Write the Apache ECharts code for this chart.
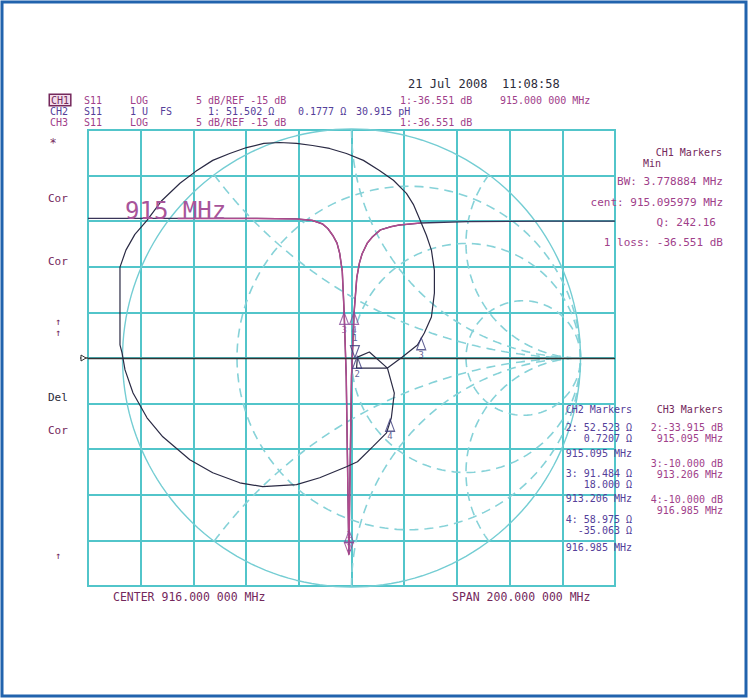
<!DOCTYPE html>
<html><head><meta charset="utf-8">
<script src="https://cdn.jsdelivr.net/npm/echarts/dist/echarts.min.js"></script>
<style>html,body{margin:0;padding:0;background:#fff}#c{width:749px;height:698px}</style>
</head><body><div id="c"></div>
<script>
// ---- instrument settings ----
const centerMHz = 916, spanMHz = 200;
const refLevelDb = -15, dbPerDiv = 5;

// ---- CH1 / CH3 : S11 log magnitude (frequency MHz, dB) ----
const ch1Freq = [816, 850, 880, 895, 901, 905, 907, 909, 910.5, 911.5, 912.5, 913.206, 914, 915, 916, 916.985, 918, 919, 920, 922, 924, 927, 931, 934, 942, 960, 990, 1016];
const ch1Db   = [0.3, 0.3, 0.3, 0.25, 0.1, -0.3, -0.8, -1.6, -2.4, -3.5, -5.5, -10, -17, -36.551, -17, -10, -6.2, -4.6, -3.6, -2.4, -1.7, -0.95, -0.6, -0.42, -0.2, -0.05, 0, 0];
const ch1VisibleFrom = 826, ch1VisibleTo = 945;

// ---- CH2 : S11 Smith chart trace (reflection coefficient, real / imag) ----
const smithRe = [-1.011,-1.011,-1.011,-0.985,-0.946,-0.893,-0.828,-0.749,-0.680,-0.606,-0.532,-0.458,-0.383,-0.314,-0.240,-0.170,-0.096,-0.022,0.052,0.122,0.183,0.240,0.270,0.296,0.327,0.349,0.362,0.362,0.349,0.318,0.288,0.222,0.157,0.022,0.026,0.078,0.157,0.187,0.174,0.153,0.092,0.026,-0.022,-0.139,-0.240,-0.388,-0.488,-0.606,-0.706,-0.824,-0.893,-0.954,-0.989,-1.002,-1.011];
const smithIm = [0.057,0.253,0.397,0.471,0.540,0.601,0.688,0.763,0.815,0.863,0.893,0.919,0.937,0.941,0.937,0.928,0.915,0.893,0.863,0.819,0.776,0.719,0.671,0.610,0.536,0.471,0.383,0.283,0.179,0.109,0.057,0.004,-0.044,-0.044,0.004,0.026,-0.044,-0.153,-0.261,-0.327,-0.388,-0.453,-0.475,-0.523,-0.553,-0.562,-0.545,-0.501,-0.444,-0.344,-0.261,-0.153,-0.052,0.022,0.057];

// ---- markers ----
const z0 = 50;
const smithMarkerIds = ['1', '2', '3', '4'];
const smithMarkerR   = [51.502, 52.523, 91.484, 58.975];
const smithMarkerX   = [0.1777, 0.7207, 18.000, -35.063];
const logMarkerIds   = ['1', '2', '3', '4'];
const logMarkerFreq  = [915.000, 915.095, 913.206, 916.985];
const logMarkerDb    = [-36.551, -33.915, -10.000, -10.000];

// ---- Smith graticule ----
const resistanceCircles = [1/3, 1, 3];
const reactanceArcs = [0.5, 1, 2, -0.5, -1, -2];
const smithExtent = 1.1;
const smithPxPerUnit = 229;

function gammaOf(r, x) {
  const d = (r + 1) * (r + 1) + x * x;
  return [(r * r + x * x - 1) / d, 2 * x / d];
}

const FONT = '"DejaVu Sans Mono", monospace';
const GRID_CYAN = '#52c5ca';
const DASH_CYAN = '#86d2d8';

const series = [];
resistanceCircles.forEach(r => {
  const c = r / (1 + r), rad = 1 / (1 + r), pts = [];
  for (let a = 0; a <= 360; a += 2) {
    const t = a * Math.PI / 180;
    pts.push([c + rad * Math.cos(t), rad * Math.sin(t)]);
  }
  series.push({type: 'line', xAxisIndex: 1, yAxisIndex: 1, data: pts, showSymbol: false, silent: true, clip: false,
    lineStyle: {color: DASH_CYAN, width: 1.6, type: [9, 6]}, z: 1});
});
reactanceArcs.forEach(x => {
  const pts = [gammaOf(0, x)];
  for (let k = -3; k <= 3.0001; k += 0.02) pts.push(gammaOf(Math.pow(10, k), x));
  series.push({type: 'line', xAxisIndex: 1, yAxisIndex: 1, data: pts, showSymbol: false, silent: true, clip: false,
    lineStyle: {color: DASH_CYAN, width: 1.6, type: [9, 6]}, z: 1});
});
(function () {
  const pts = [];
  for (let a = 0; a <= 360; a += 2) { const t = a * Math.PI / 180; pts.push([Math.cos(t), Math.sin(t)]); }
  series.push({type: 'line', xAxisIndex: 1, yAxisIndex: 1, data: pts, showSymbol: false, silent: true, clip: false,
    lineStyle: {color: '#74cdd3', width: 1.4}, z: 1});
})();

series.push({
  type: 'line', xAxisIndex: 0, yAxisIndex: 0, showSymbol: false, clip: false,
  data: ch1Freq.map((f, i) => [f - centerMHz, ch1Db[i]]),
  lineStyle: {color: '#3a3458', width: 1.3}, z: 3,
  markLine: {silent: true, symbol: 'none', label: {show: false},
    lineStyle: {color: '#333', width: 1.4, type: 'solid'}, data: [{yAxis: refLevelDb}]}
});
series.push({
  type: 'line', xAxisIndex: 0, yAxisIndex: 0, showSymbol: false, clip: false,
  data: ch1Freq.map((f, i) => [f, ch1Db[i]]).filter(p => p[0] >= ch1VisibleFrom && p[0] <= ch1VisibleTo).map(p => [p[0] - centerMHz, p[1]]),
  lineStyle: {color: '#b04a8e', width: 1.5}, z: 4
});
series.push({
  type: 'line', xAxisIndex: 1, yAxisIndex: 1, showSymbol: false, clip: false,
  data: smithRe.map((v, i) => [v, smithIm[i]]),
  lineStyle: {color: '#2a2a44', width: 1.2}, z: 5
});

function markerItem(pt, id, down, color) {
  return {
    value: pt,
    symbol: 'triangle', symbolSize: [9, 12],
    symbolRotate: down ? 180 : 0,
    symbolOffset: [0, down ? '-50%' : '50%'],
    itemStyle: {color: 'rgba(255,255,255,0)', borderColor: color, borderWidth: 1.2},
    label: {show: true, formatter: id, position: down ? 'top' : 'bottom', distance: 13,
      color: color, fontFamily: FONT, fontSize: 9, offset: [0, down ? 11 : -13]}
  };
}
series.push({
  type: 'scatter', xAxisIndex: 0, yAxisIndex: 0, clip: false, z: 6, silent: true,
  data: logMarkerFreq.map((f, i) => markerItem([f - centerMHz, logMarkerDb[i]], logMarkerIds[i], i === 0, i === 0 ? '#a0408a' : '#8a4a9a'))
});
series.push({
  type: 'scatter', xAxisIndex: 1, yAxisIndex: 1, clip: false, z: 6, silent: true,
  data: smithMarkerR.map((r, i) => markerItem(gammaOf(r / z0, smithMarkerX[i] / z0), smithMarkerIds[i], i === 0, '#3a3a7a'))
});

// ---- texts ----
const texts = [];
function T(x, y, text, color, align, size, extra) {
  texts.push({type: 'text', x: x, y: y, silent: true, z: 100,
    style: Object.assign({text: text, fill: color, font: (size || 10) + 'px ' + FONT,
      textAlign: align || 'left', textVerticalAlign: 'middle', verticalAlign: 'middle'}, extra || {})});
}
const DARK = '#2b2b3a', MAROON = '#74285c', MAG = '#a0408a', BLUEP = '#55409a';
T(408, 84, '21 Jul 2008  11:08:58', DARK, 'left', 12);
T(50, 100, 'CH1', MAROON, 'left', 10, {backgroundColor: '#f3dcea', borderColor: '#74285c', borderWidth: 1.5, padding: [0, 1]});
T(84, 100, 'S11', MAG); T(130, 100, 'LOG', MAG); T(196, 100, '5 dB/REF -15 dB', MAG);
T(400, 100, '1:-36.551 dB', MAG); T(500, 100, '915.000 000 MHz', MAG);
T(50, 111, 'CH2', BLUEP); T(84, 111, 'S11', BLUEP); T(130, 111, '1 U  FS', BLUEP);
T(208, 111, '1: 51.502 \u03a9', BLUEP); T(298, 111, '0.1777 \u03a9', BLUEP); T(356, 111, '30.915 pH', BLUEP);
T(50, 122, 'CH3', MAG); T(84, 122, 'S11', MAG); T(130, 122, 'LOG', MAG); T(196, 122, '5 dB/REF -15 dB', MAG);
T(400, 122, '1:-36.551 dB', MAG);

T(722, 152, 'CH1 Markers', MAROON, 'right');
T(643, 163, 'Min', MAROON);
T(723, 181, 'BW: 3.778884 MHz', MAG, 'right', 11);
T(723, 202, 'cent: 915.095979 MHz', MAG, 'right', 11);
T(716, 222, 'Q: 242.16', MAG, 'right', 11);
T(723, 242, '1 loss: -36.551 dB', MAG, 'right', 11);

T(632, 409, 'CH2 Markers', BLUEP, 'right');
T(632, 427, '2: 52.523 \u03a9', BLUEP, 'right');
T(632, 438, '0.7207 \u03a9', BLUEP, 'right');
T(632, 453, '915.095 MHz', BLUEP, 'right');
T(632, 473, '3: 91.484 \u03a9', BLUEP, 'right');
T(632, 484, '18.000 \u03a9', BLUEP, 'right');
T(632, 498, '913.206 MHz', BLUEP, 'right');
T(632, 519, '4: 58.975 \u03a9', BLUEP, 'right');
T(632, 530, '-35.063 \u03a9', BLUEP, 'right');
T(632, 547, '916.985 MHz', BLUEP, 'right');

T(723, 409, 'CH3 Markers', MAROON, 'right');
T(723, 427, '2:-33.915 dB', MAG, 'right');
T(723, 438, '915.095 MHz', MAG, 'right');
T(723, 463, '3:-10.000 dB', MAG, 'right');
T(723, 474, '913.206 MHz', MAG, 'right');
T(723, 499, '4:-10.000 dB', MAG, 'right');
T(723, 510, '916.985 MHz', MAG, 'right');

T(53, 143, '*', MAROON, 'center', 12);
T(48, 198, 'Cor', MAROON, 'left', 11); T(48, 261, 'Cor', MAROON, 'left', 11);
T(58, 321, '\u2191', MAROON, 'center'); T(58, 332, '\u2191', MAROON, 'center');
T(48, 397, 'Del', DARK, 'left', 11); T(48, 430, 'Cor', MAROON, 'left', 11);
T(58, 555, '\u2191', MAROON, 'center');

T(113, 597, 'CENTER 916.000 000 MHz', MAROON, 'left', 11.5);
T(452, 597, 'SPAN 200.000 000 MHz', MAROON, 'left', 11.5);

T(125, 211, '915 MHz', '#a8549a', 'left', 24);

texts.push({type: 'rect', silent: true, z: 0, shape: {x: 2, y: 2, width: 744, height: 694},
  style: {fill: 'none', stroke: '#2163ad', lineWidth: 3}});

const gridCx = 88 + 527 / 2, gridCy = 130 + 456 / 2;
const smithHalf = smithExtent * smithPxPerUnit;

const option = {
  animation: false,
  backgroundColor: '#ffffff',
  grid: [
    {left: 88, top: 130, width: 527, height: 456, show: true, borderColor: GRID_CYAN, borderWidth: 2, backgroundColor: 'transparent'},
    {left: gridCx - smithHalf, top: gridCy - smithHalf, width: 2 * smithHalf, height: 2 * smithHalf, show: false}
  ],
  xAxis: [
    {type: 'value', gridIndex: 0, min: -spanMHz / 2, max: spanMHz / 2, interval: spanMHz / 10,
      axisLine: {show: false}, axisTick: {show: false}, axisLabel: {show: false},
      splitLine: {show: true, lineStyle: {color: GRID_CYAN, width: 2}}},
    {type: 'value', gridIndex: 1, min: -smithExtent, max: smithExtent, show: false}
  ],
  yAxis: [
    {type: 'value', gridIndex: 0, min: refLevelDb - 5 * dbPerDiv, max: refLevelDb + 5 * dbPerDiv, interval: dbPerDiv,
      axisLine: {show: false}, axisTick: {show: false}, axisLabel: {show: false},
      splitLine: {show: true, lineStyle: {color: GRID_CYAN, width: 2}}},
    {type: 'value', gridIndex: 1, min: -smithExtent, max: smithExtent, show: false}
  ],
  series: series,
  graphic: texts
};

const chart = echarts.init(document.getElementById('c'), null, {renderer: 'svg', width: 749, height: 698});
chart.setOption(option);

const p = chart.convertToPixel({xAxisIndex: 0, yAxisIndex: 0}, [-spanMHz / 2, refLevelDb]);
chart.setOption({graphic: texts.concat([{type: 'polygon', silent: true, z: 101,
  shape: {points: [[p[0] - 7, p[1] - 3], [p[0] - 2, p[1]], [p[0] - 7, p[1] + 3]]},
  style: {fill: '#fff', stroke: '#333', lineWidth: 1}},
  {type: 'line', silent: true, z: 100, shape: {x1: p[0] - 8, y1: p[1], x2: p[0], y2: p[1]}, style: {stroke: '#333', lineWidth: 1.4}}])});
</script>
</body></html>
